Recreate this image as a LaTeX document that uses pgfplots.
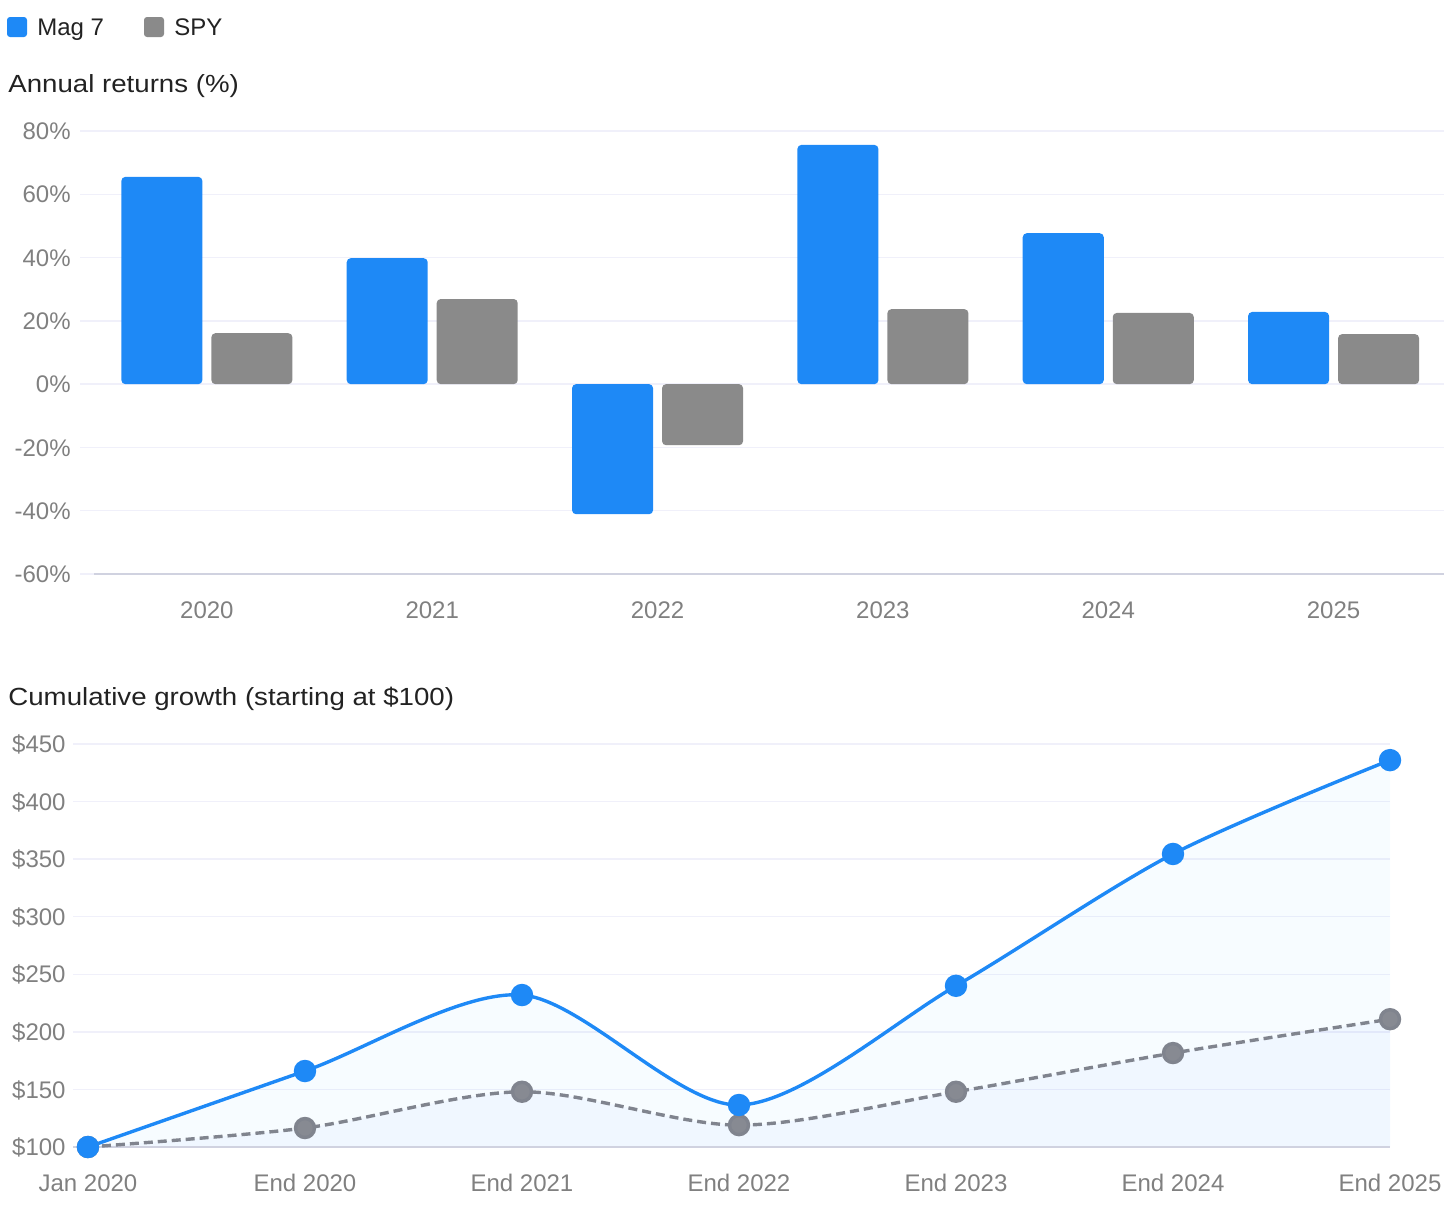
\documentclass[border=0pt]{standalone}
\usepackage{pgfplots}
\pgfplotsset{compat=1.18}
\usepackage{pgfplotstable}
\usepgfplotslibrary{fillbetween}
\usepackage{fontspec}
\setmainfont{Liberation Sans}
\newfontfamily\titlefont[FakeStretch=1.115]{Liberation Sans}
\definecolor{mag}{RGB}{30,137,246}
\definecolor{spybar}{RGB}{138,138,138}
\definecolor{spyline}{RGB}{128,132,142}
\definecolor{spydot}{RGB}{135,138,146}
\definecolor{gridcol}{RGB}{240,240,250}
\definecolor{axiscol}{RGB}{208,210,224}
\definecolor{tickcol}{RGB}{128,128,128}
\definecolor{titlecol}{RGB}{34,34,34}
\definecolor{magfill}{RGB}{0,160,255}
\definecolor{spyfill}{RGB}{80,120,255}

\pgfplotstableread{
idx mag spy
0 65.5 16.1
1 39.8 26.9
2 -41.1 -19.3
3 75.6 23.7
4 47.7 22.5
5 22.8 15.8
}\returns

\pgfplotstableread{
idx mag spy
0 100 100
1 166 116.5
2 232 148
3 136.5 119
4 240 148
5 354.5 181.6
6 436 211
}\growth

\begin{document}
\begin{tikzpicture}
% legend
\fill[mag, rounded corners=1.5pt] (3.5pt,-8.5pt) rectangle (13.5pt,-18.5pt);
\node[anchor=base west, inner sep=0pt, text=titlecol, font=\fontsize{12}{14}\selectfont] at (18.5pt,-17.5pt) {Mag 7};
\fill[spybar, rounded corners=1.5pt] (72pt,-8.5pt) rectangle (82pt,-18.5pt);
\node[anchor=base west, inner sep=0pt, text=titlecol, font=\fontsize{12}{14}\selectfont] at (87pt,-17.5pt) {SPY};
% titles
\node[anchor=base west, inner sep=0pt, text=titlecol, font=\titlefont\fontsize{12.4}{15}\selectfont] at (4pt,-46pt) {Annual returns (\%)};
\node[anchor=base west, inner sep=0pt, text=titlecol, font=\titlefont\fontsize{12.4}{15}\selectfont] at (4pt,-352.5pt) {Cumulative growth (starting at \$100)};

\begin{axis}[
  at={(40pt,-287pt)}, anchor=south west,
  scale only axis, width=682pt, height=221.5pt,
  xmin=-0.563, xmax=5.49, ymin=-60, ymax=80,
  ytick={-60,-40,-20,0,20,40,60,80},
  yticklabels={-60\%,-40\%,-20\%,0\%,20\%,40\%,60\%,80\%},
  xtick={0,1,2,3,4,5},
  xticklabels={2020,2021,2022,2023,2024,2025},
  axis line style={draw=none},
  major tick length=0pt,
  ymajorgrids,
  grid style={gridcol, line width=0.7pt},
  tick label style={font=\fontsize{12}{14}\selectfont, text=tickcol},
  yticklabel style={anchor=base east, inner sep=0pt, xshift=-4.5pt, yshift=-4.3pt},
  xticklabel style={anchor=north, inner sep=0pt, yshift=-13.5pt},
  ybar=4.5pt, bar width=40.5pt,
  clip=false,
]
\addplot[fill=mag, draw=none, rounded corners=2pt] table[x=idx, y=mag] {\returns};
\addplot[fill=spybar, draw=none, rounded corners=2pt] table[x=idx, y=spy] {\returns};
\draw[axiscol, line width=0.8pt] (axis cs:-0.5,-60) -- (axis cs:5.49,-60);
\end{axis}

\begin{axis}[
  at={(36.5pt,-573.5pt)}, anchor=south west,
  scale only axis, width=658.5pt, height=201.5pt,
  xmin=-0.069, xmax=6, ymin=100, ymax=450,
  ytick={100,150,200,250,300,350,400,450},
  yticklabels={\$100,\$150,\$200,\$250,\$300,\$350,\$400,\$450},
  xtick={0,1,2,3,4,5,6},
  xticklabels={Jan 2020,End 2020,End 2021,End 2022,End 2023,End 2024,End 2025},
  axis line style={draw=none},
  major tick length=0pt,
  ymajorgrids,
  grid style={gridcol, line width=0.7pt},
  tick label style={font=\fontsize{12}{14}\selectfont, text=tickcol},
  yticklabel style={anchor=base east, inner sep=0pt, xshift=-3.5pt, yshift=-4.3pt},
  xticklabel style={anchor=north, inner sep=0pt, yshift=-13.5pt},
  clip=false,
]
\addplot[draw=none, smooth, name path=magp, forget plot] table[x=idx, y=mag] {\growth};
\addplot[draw=none, smooth, name path=spyp, forget plot] table[x=idx, y=spy] {\growth};
\addplot[draw=none, name path=basep, forget plot] coordinates {(0,100) (6,100)};
\addplot[fill=magfill, fill opacity=0.03, draw=none, forget plot] fill between[of=magp and basep];
\addplot[fill=spyfill, fill opacity=0.04, draw=none, forget plot] fill between[of=spyp and basep];
\draw[axiscol, line width=0.8pt] (axis cs:-0.069,100) -- (axis cs:6,100);
\addplot[spyline, line width=1.7pt, dash pattern=on 4.5pt off 2.5pt, smooth, mark=*, mark size=4.75pt, mark options={solid, fill=spydot, draw=none}] table[x=idx, y=spy] {\growth};
\addplot[mag, line width=1.7pt, smooth, mark=*, mark size=4.75pt, mark options={solid, fill=mag, draw=none}] table[x=idx, y=mag] {\growth};
\end{axis}
\pgfresetboundingbox
\path[use as bounding box] (0pt,0pt) rectangle (722pt,-605pt);
\end{tikzpicture}
\end{document}
